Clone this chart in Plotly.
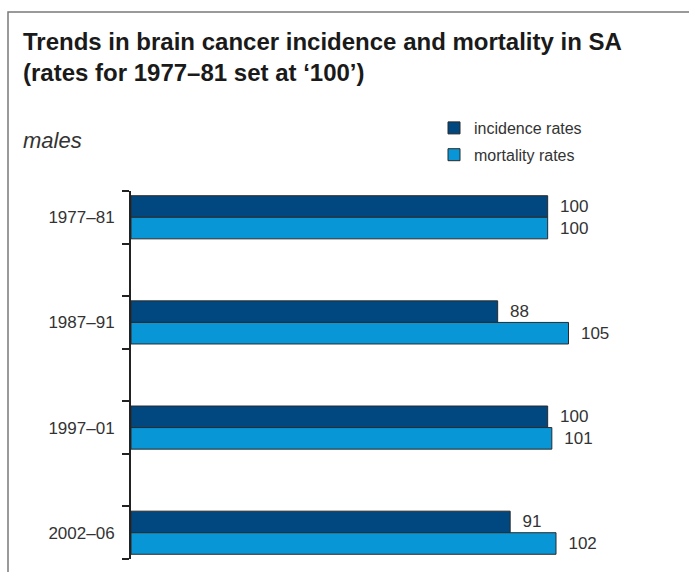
import plotly.graph_objects as go

periods = ["1977–81", "1987–91", "1997–01", "2002–06"]
incidence = [100, 88, 100, 91]
mortality = [100, 105, 101, 102]

DARK = "#00487F"
LIGHT = "#0896D6"
EDGE = "#2a2a2a"
FONT = "Liberation Sans, Arial, sans-serif"

W, H = 689, 572
L, R, T, B = 131, 681, 191, 559


def px(x):
    return (x - L) / (R - L)


def py(y):
    return (B - y) / (B - T)


# each period occupies two slots on the axis: one with bars, one empty
pos = [2 * i + 0.5 for i in range(len(periods))]
bounds = list(range(2 * len(periods)))

fig = go.Figure()
for name, vals, col in [("incidence rates", incidence, DARK),
                        ("mortality rates", mortality, LIGHT)]:
    fig.add_trace(go.Bar(
        y=pos, x=vals, orientation="h", name=name,
        marker=dict(color=col, line=dict(color=EDGE, width=1)),
        text=vals, texttemplate="\u00a0\u00a0%{x}", textposition="outside",
        textfont=dict(family=FONT, size=17, color="#333333"),
        constraintext="none", cliponaxis=False, legendgroup=name,
    ))

fig.update_layout(
    width=W, height=H,
    margin=dict(l=L, r=W - R, t=T, b=H - B, autoexpand=False),
    paper_bgcolor="white", plot_bgcolor="white",
    barmode="group", bargap=0.59,
    showlegend=True,
    legend=dict(xref="container", yref="container", x=434 / W, y=1 - 111 / H,
                xanchor="left", yanchor="top", traceorder="grouped",
                tracegroupgap=3,
                font=dict(family=FONT, size=16, color="#333333"),
                bgcolor="rgba(0,0,0,0)"),
    title=dict(text="<b>Trends in brain cancer incidence and mortality in SA<br>(rates for 1977–81 set at ‘100’)</b>",
               xref="container", yref="container", x=23 / W, y=1 - 50 / H,
               xanchor="left", yanchor="top",
               font=dict(family=FONT, size=24, color="#1a1a1a")),
    xaxis=dict(range=[0, 132], visible=False, fixedrange=True),
    yaxis=dict(range=[2 * len(periods) - 1, 0], tickmode="array", tickvals=pos,
               ticktext=periods, ticks="", showgrid=False, zeroline=False,
               showline=True, linecolor="#222222", linewidth=2,
               ticklabelstandoff=11,
               tickfont=dict(family=FONT, size=17, color="#333333"),
               minor=dict(tickmode="array", tickvals=bounds, ticks="outside",
                          ticklen=7, tickwidth=2, tickcolor="#222222",
                          showgrid=False)),
    font=dict(family=FONT),
    shapes=[dict(type="rect", xref="paper", yref="paper",
                 x0=px(8), x1=px(760), y0=py(640), y1=py(12),
                 line=dict(color="#7a7a7a", width=1.5), fillcolor="rgba(0,0,0,0)",
                 layer="below")],
    annotations=[dict(text="<i>males</i>", xref="paper", yref="paper",
                      x=px(21), y=py(140), xanchor="left", yanchor="middle",
                      showarrow=False,
                      font=dict(family=FONT, size=22, color="#333333"))],
)

fig.write_html("out.html")
